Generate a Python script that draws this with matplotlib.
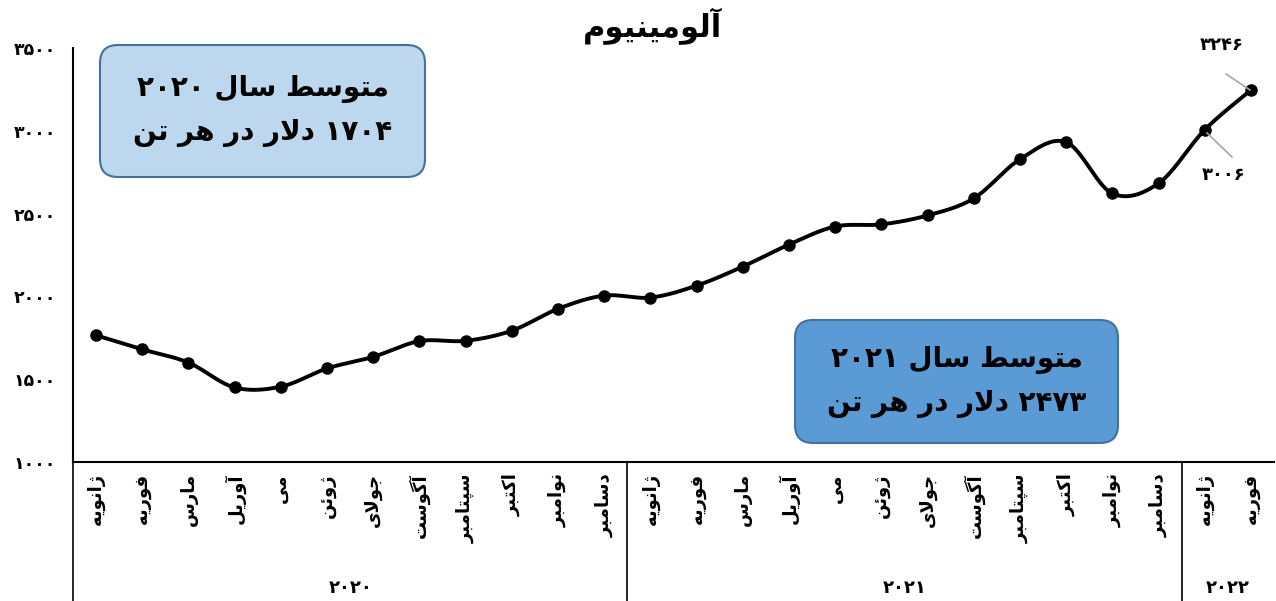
import re
import numpy as np
import matplotlib
matplotlib.use('Agg')
import matplotlib.pyplot as plt
from matplotlib.patches import FancyBboxPatch
from matplotlib.lines import Line2D
from matplotlib.transforms import Affine2D, blended_transform_factory

# data
months = ['ژانویه', 'فوریه', 'مارس', 'آوریل', 'می', 'ژوئن', 'جولای',
          'آگوست', 'سپتامبر', 'اکتبر', 'نوامبر', 'دسامبر']
labels = months + months + months[:2]
years = ['2020', '2021', '2022']
year_span = [(0, 11), (12, 23), (24, 25)]
prices = [1765, 1680, 1600, 1450, 1455, 1565, 1635, 1730, 1732, 1793, 1925, 2005,
          1993, 2065, 2180, 2313, 2422, 2435, 2489, 2592, 2828, 2931, 2622, 2683,
          3006, 3246]
yticks = [1000, 1500, 2000, 2500, 3000, 3500]
title = 'آلومینیوم'
box1 = ['متوسط سال 2020', '1704 دلار در هر تن']
box2 = ['متوسط سال 2021', '2473 دلار در هر تن']

# --- minimal persian shaping (matplotlib does no arabic shaping / bidi) ---
FORMS = {
    'آ': (0xFE81, 0xFE82, None, None), 'ا': (0xFE8D, 0xFE8E, None, None),
    'ب': (0xFE8F, 0xFE90, 0xFE91, 0xFE92), 'پ': (0xFB56, 0xFB57, 0xFB58, 0xFB59),
    'ت': (0xFE95, 0xFE96, 0xFE97, 0xFE98), 'ج': (0xFE9D, 0xFE9E, 0xFE9F, 0xFEA0),
    'د': (0xFEA9, 0xFEAA, None, None), 'ر': (0xFEAD, 0xFEAE, None, None),
    'ز': (0xFEAF, 0xFEB0, None, None), 'ژ': (0xFB8A, 0xFB8B, None, None),
    'س': (0xFEB1, 0xFEB2, 0xFEB3, 0xFEB4), 'ط': (0xFEC1, 0xFEC2, 0xFEC3, 0xFEC4),
    'ف': (0xFED1, 0xFED2, 0xFED3, 0xFED4), 'ک': (0xFB8E, 0xFB8F, 0xFB90, 0xFB91),
    'گ': (0xFB92, 0xFB93, 0xFB94, 0xFB95), 'ل': (0xFEDD, 0xFEDE, 0xFEDF, 0xFEE0),
    'م': (0xFEE1, 0xFEE2, 0xFEE3, 0xFEE4), 'ن': (0xFEE5, 0xFEE6, 0xFEE7, 0xFEE8),
    'ه': (0xFEE9, 0xFEEA, 0xFEEB, 0xFEEC), 'و': (0xFEED, 0xFEEE, None, None),
    'ئ': (0xFE89, 0xFE8A, 0xFE8B, 0xFE8C), 'ی': (0xFBFC, 0xFBFD, 0xFBFE, 0xFBFF),
}
LAMALEF = {'ا': (0xFEFB, 0xFEFC), 'آ': (0xFEF5, 0xFEF6)}
DIGITS = str.maketrans('0123456789', '۰۱۲۳۴۵۶۷۸۹')


def fa(s):
    s = s.translate(DIGITS)
    out = []
    i = 0
    while i < len(s):
        c = s[i]
        prev = s[i - 1] if i > 0 else ''
        joins_prev = prev in FORMS and FORMS[prev][2] is not None
        if c == 'ل' and i + 1 < len(s) and s[i + 1] in LAMALEF:
            out.append(chr(LAMALEF[s[i + 1]][1 if joins_prev else 0]))
            i += 2
            continue
        if c in FORMS:
            nxt = s[i + 1] if i + 1 < len(s) else ''
            f = FORMS[c]
            joins_next = f[2] is not None and nxt in FORMS
            if joins_prev and joins_next:
                out.append(chr(f[3]))
            elif joins_prev:
                out.append(chr(f[1]))
            elif joins_next:
                out.append(chr(f[2]))
            else:
                out.append(chr(f[0]))
        else:
            out.append(c)
        i += 1
    shaped = ''.join(out)
    parts = re.split('([۰-۹]+)', shaped)
    parts = [p if re.fullmatch('[۰-۹]+', p) else p[::-1] for p in parts]
    return ''.join(parts[::-1])


def smooth(x, y, n=24):
    p = np.column_stack([x, y]).astype(float)
    p = np.vstack([p[0], p, p[-1]])
    t = np.linspace(0, 1, n, endpoint=False)[:, None]
    segs = []
    for i in range(1, len(p) - 2):
        p0, p1, p2, p3 = p[i - 1], p[i], p[i + 1], p[i + 2]
        c1 = p1 + (p2 - p0) / 6
        c2 = p2 - (p3 - p1) / 6
        segs.append((1 - t) ** 3 * p1 + 3 * (1 - t) ** 2 * t * c1
                    + 3 * (1 - t) * t ** 2 * c2 + t ** 3 * p2)
    segs.append(p[-2][None])
    c = np.vstack(segs)
    return c[:, 0], c[:, 1]


plt.rcParams['font.family'] = ['DejaVu Sans']
plt.rcParams['font.weight'] = 'bold'

W, H = 1276, 601
fig = plt.figure(figsize=(W / 100, H / 100), dpi=100)
px = Affine2D().scale(1 / W, -1 / H).translate(0, 1) + fig.transFigure

ax = fig.add_axes([73 / W, 1 - 462 / H, 1201 / W, 414 / H])
x = np.arange(len(prices))
sx, sy = smooth(x, prices)
ax.plot(sx, sy, color='black', lw=2.8, solid_capstyle='round', zorder=3)
ax.plot(x, prices, 'o', color='black', ms=8, zorder=4)

ax.set_xlim(-0.5, len(prices) - 0.5)
ax.set_ylim(1000, 3500)
ax.set_yticks(yticks)
ax.set_yticklabels([fa(str(v)) for v in yticks], fontsize=12.5, fontweight='bold')
ax.set_xticks(x)
ax.set_xticklabels([fa(m) for m in labels], rotation=90, fontsize=13,
                   fontweight='bold', va='top', ha='center')
ax.tick_params(axis='both', length=0)
ax.tick_params(axis='x', pad=8)
ax.tick_params(axis='y', pad=12)
for side in ['top', 'right']:
    ax.spines[side].set_visible(False)
ax.spines['left'].set_linewidth(1.5)
ax.spines['bottom'].set_linewidth(1.5)

# category group lines and year labels below the axis
bt = blended_transform_factory(ax.transData, ax.transAxes)
low = -(H - 462) / 414
for xv in [-0.5, 11.5, 23.5]:
    ax.add_line(Line2D([xv, xv], [0, low], color='black', lw=1.2,
                       transform=bt, clip_on=False))
for yr, (a, b) in zip(years, year_span):
    ax.text((a + b) / 2, -(588 - 462) / 414, fa(yr), transform=bt,
            ha='center', va='center', fontsize=13, fontweight='bold')

fig.text(652, 26, fa(title), transform=px, ha='center', va='center',
         fontsize=22, fontweight='bold')

# average boxes
for (bx, by, bw, bh, fc), lines in [((100, 45, 325, 132, '#BDD7EE'), box1),
                                    ((795, 320, 323, 123, '#5B9BD5'), box2)]:
    fig.add_artist(FancyBboxPatch((bx, by), bw, bh, transform=px,
                                  boxstyle='round,pad=0,rounding_size=18',
                                  fc=fc, ec='#41719C', lw=1.5))
    cx, cy = bx + bw / 2, by + bh / 2
    fig.text(cx, cy - 22, fa(lines[0]), transform=px, ha='center', va='center',
             fontsize=20, fontweight='bold')
    fig.text(cx, cy + 22, fa(lines[1]), transform=px, ha='center', va='center',
             fontsize=20, fontweight='bold')

# value labels for the last two points
fig.add_artist(Line2D([1226, 1250], [74, 90], transform=px, color='#A6A6A6', lw=1.2))
fig.add_artist(Line2D([1207, 1232], [133, 157], transform=px, color='#A6A6A6', lw=1.2))
fig.text(1222, 45, fa(str(prices[-1])), transform=px, ha='center', va='center',
         fontsize=13, fontweight='bold')
fig.text(1224, 175, fa(str(prices[-2])), transform=px, ha='center', va='center',
         fontsize=13, fontweight='bold')

fig.savefig('out.png', dpi=100)
